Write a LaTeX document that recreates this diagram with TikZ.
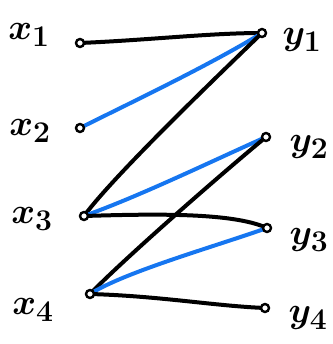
\documentclass[tikz,border=0pt]{standalone}
\usepackage{graphicx}
\definecolor{penblue}{RGB}{22,118,240}
\newcommand{\biglbl}[1]{\scalebox{1.45}{\Huge\boldmath$#1$}}
\begin{document}
\begin{tikzpicture}[x=1pt,y=-1pt,
  dot/.style={circle,draw=black,line width=2.4pt,inner sep=0pt,minimum size=8pt,fill=white},
  lbl/.style={inner sep=0pt},
  bk/.style={draw=black,line width=4pt,line cap=round},
  bl/.style={draw=penblue,line width=4pt,line cap=round}]
\useasboundingbox (0,0) rectangle (332,344);
\coordinate (x1) at (80,43);
\coordinate (x2) at (80,128);
\coordinate (x3) at (84,216);
\coordinate (x4) at (90,294);
\coordinate (y1) at (262,33);
\coordinate (y2) at (266,137);
\coordinate (y3) at (267,228);
\coordinate (y4) at (265,308);
% edges
\draw[bk] (x1) .. controls (150,40) and (210,33) .. (y1);
\draw[bl] (x2) .. controls (130,103) and (210,65) .. (y1);
\draw[bk] (x3) .. controls (112,178) and (205,88) .. (y1);
\draw[bl] (x3) .. controls (140,196) and (210,162) .. (y2);
\draw[bk] (x3) .. controls (150,214) and (232,212) .. (y3);
\draw[bk] (x4) .. controls (125,258) and (220,175) .. (y2);
\draw[bl] (x4) .. controls (125,272) and (210,248) .. (y3);
\draw[bk] (x4) .. controls (160,296) and (215,306) .. (y4);
% dots
\foreach \n in {x1,x2,x3,x4,y1,y2,y3,y4} \node[dot] (d\n) at (\n) {};
% labels
\node[lbl] (lx1) at (29,35) {\biglbl{x_1}};
\node[lbl] (lx2) at (30,131) {\biglbl{x_2}};
\node[lbl] (lx3) at (32,219) {\biglbl{x_3}};
\node[lbl] (lx4) at (33,310) {\biglbl{x_4}};
\node[lbl] (ly1) at (302,40) {\biglbl{y_1}};
\node[lbl] (ly2) at (309,147) {\biglbl{y_2}};
\node[lbl] (ly3) at (309,240) {\biglbl{y_3}};
\node[lbl] (ly4) at (308,318) {\biglbl{y_4}};
\end{tikzpicture}
\end{document}
